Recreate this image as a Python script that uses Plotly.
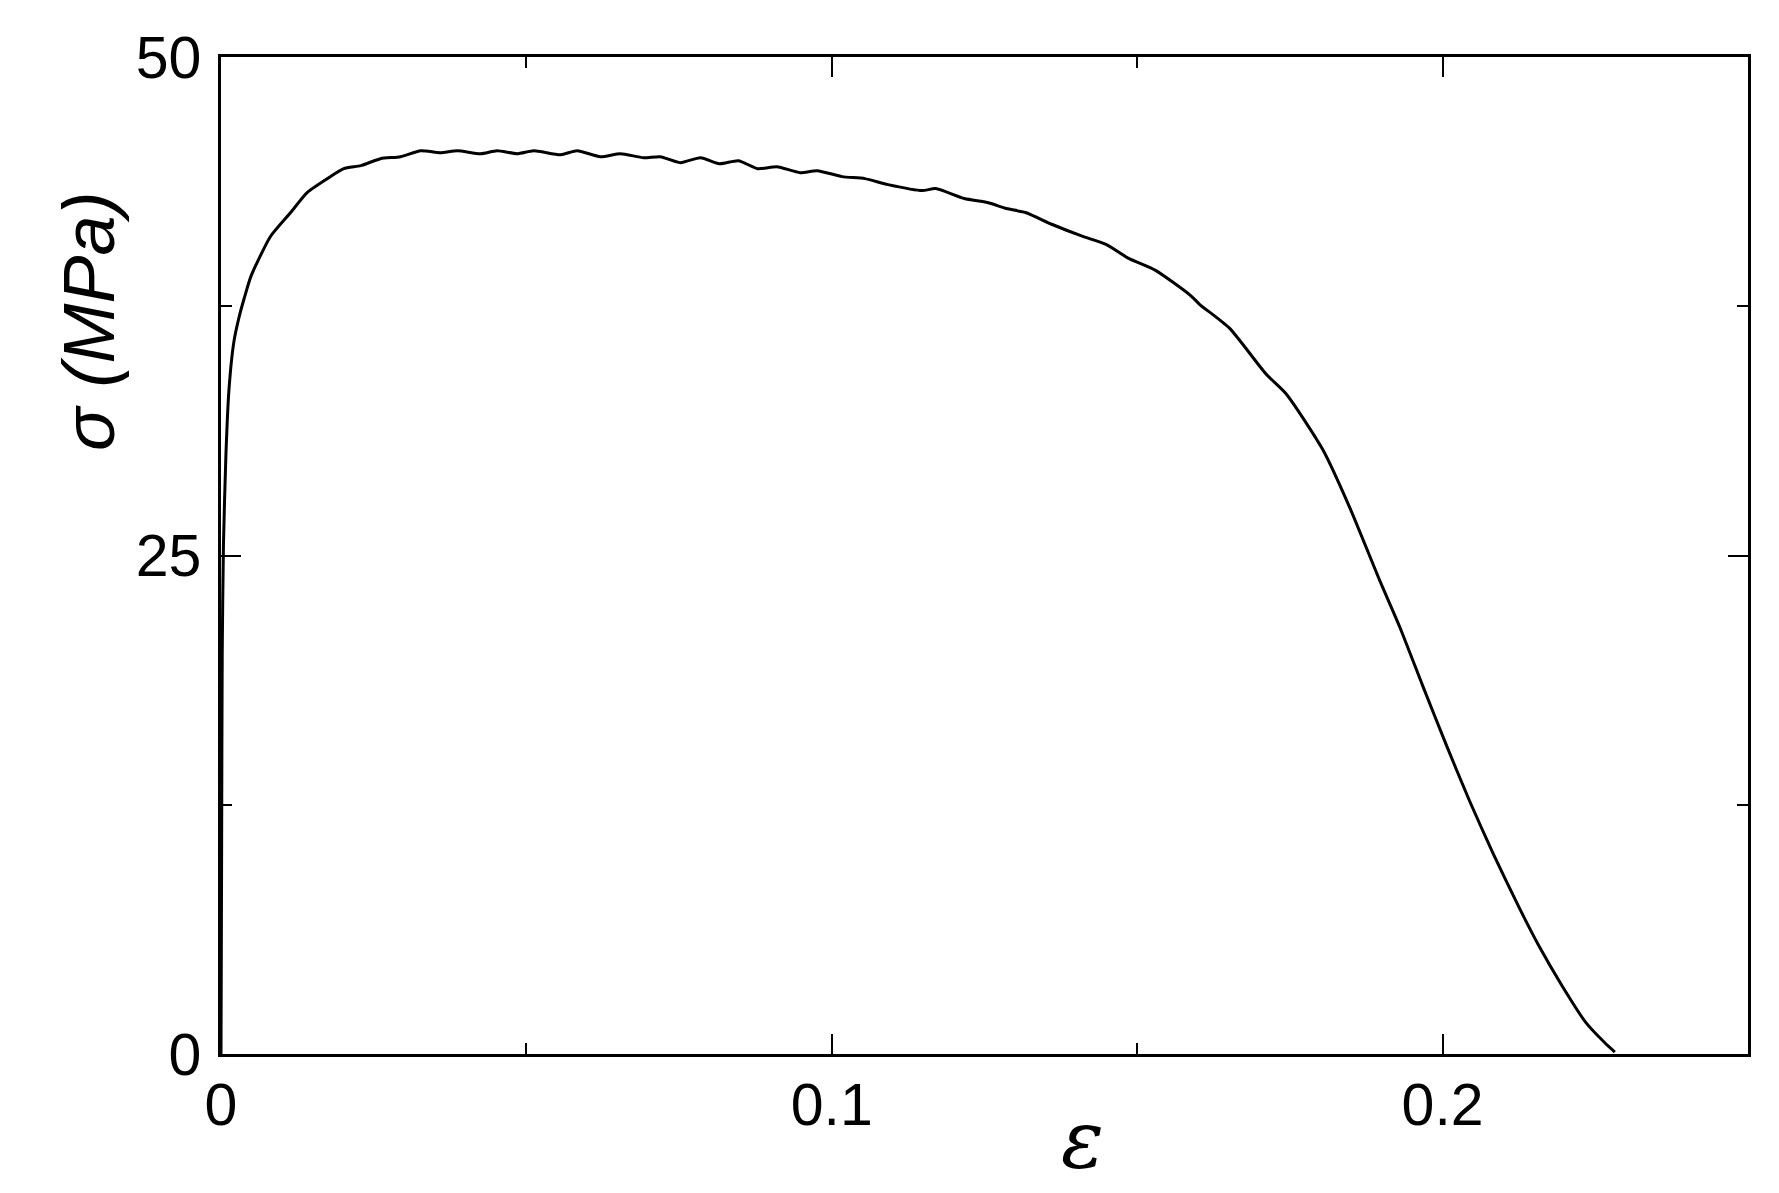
import plotly.graph_objects as go

# stress-strain curve
strain = [0, 0.0001, 0.0002, 0.0004, 0.0008, 0.0013, 0.0021, 0.0030, 0.0038, 0.0049,
          0.0081, 0.0114, 0.0141, 0.0174, 0.0201, 0.0229, 0.0261, 0.0294, 0.0327, 0.0359,
          0.0387, 0.0425, 0.0452, 0.0485, 0.0512, 0.0556, 0.0583, 0.0621, 0.0654, 0.0692,
          0.0719, 0.0752, 0.0785, 0.0816, 0.0847, 0.0879, 0.0910, 0.0948, 0.0976, 0.1017,
          0.1054, 0.1092, 0.1148, 0.1170, 0.1217, 0.1255, 0.1286, 0.1317, 0.1361, 0.1411,
          0.1449, 0.1486, 0.1530, 0.1587, 0.1602, 0.1651, 0.1711, 0.1744, 0.1804, 0.1848,
          0.1897, 0.1930, 0.1967, 0.2006, 0.2044, 0.2082, 0.2126, 0.2158, 0.2196, 0.2234,
          0.2266, 0.2282]
stress = [0, 10, 20, 25.5, 30, 33.3, 35.7, 37.0, 37.9, 39.0,
          41.0, 42.2, 43.2, 43.9, 44.4, 44.55, 44.9, 45.0, 45.3, 45.2,
          45.3, 45.15, 45.3, 45.15, 45.3, 45.1, 45.3, 45.0, 45.15, 44.95,
          45.0, 44.7, 44.95, 44.65, 44.8, 44.4, 44.5, 44.2, 44.3, 44.0,
          43.9, 43.6, 43.3, 43.4, 42.9, 42.7, 42.4, 42.2, 41.6, 41.0,
          40.6, 39.9, 39.3, 38.05, 37.6, 36.4, 34.1, 33.1, 30.3, 27.4,
          23.75, 21.4, 18.5, 15.5, 12.7, 10.1, 7.3, 5.4, 3.4, 1.6,
          0.55, 0.1]

x_ticks = [0, 0.1, 0.2]
x_tick_text = ["0", "0.1", "0.2"]
x_minor = [0.05, 0.15]
y_ticks = [0, 25, 50]
y_minor = [12.5, 37.5]

fig = go.Figure()
fig.add_trace(go.Scatter(
    x=strain, y=stress, mode="lines",
    line=dict(color="black", width=3, shape="spline", smoothing=0.6),
    showlegend=False, cliponaxis=False,
))

axis_common = dict(
    showline=True, linecolor="black", linewidth=2.5, mirror="allticks",
    showgrid=False, zeroline=False,
    ticks="inside", ticklen=20, tickwidth=2, tickcolor="black",
    tickfont=dict(family="Liberation Sans, Arial", size=59, color="black"),
)

fig.update_xaxes(
    range=[0, 0.25], tickvals=x_ticks, ticktext=x_tick_text,
    ticklabelstandoff=-3,
    minor=dict(tickvals=x_minor, ticks="inside", ticklen=11, tickwidth=2,
               tickcolor="black", showgrid=False),
    **axis_common,
)
fig.update_yaxes(
    range=[0, 50], tickvals=y_ticks,
    ticklabelstandoff=5,
    minor=dict(tickvals=y_minor, ticks="inside", ticklen=11, tickwidth=2,
               tickcolor="black", showgrid=False),
    **axis_common,
)

# page has a small body margin, so the figure is shrunk by that much
fig.update_layout(
    width=1771, height=1185,
    margin=dict(l=213, r=31, t=49, b=139),
    plot_bgcolor="white", paper_bgcolor="white",
    annotations=[
        dict(text="<i>σ (MPa)</i>", xref="paper", yref="paper",
             x=-0.086, y=0.735, textangle=-90, showarrow=False,
             xanchor="center", yanchor="middle",
             font=dict(family="Liberation Sans, Arial", size=72, color="black")),
        dict(text="<i>ε</i>", xref="paper", yref="paper",
             x=0.564, y=-0.086, showarrow=False,
             xanchor="center", yanchor="middle",
             font=dict(family="DejaVu Serif", size=80, color="black")),
    ],
)

fig.write_html("out.html")
